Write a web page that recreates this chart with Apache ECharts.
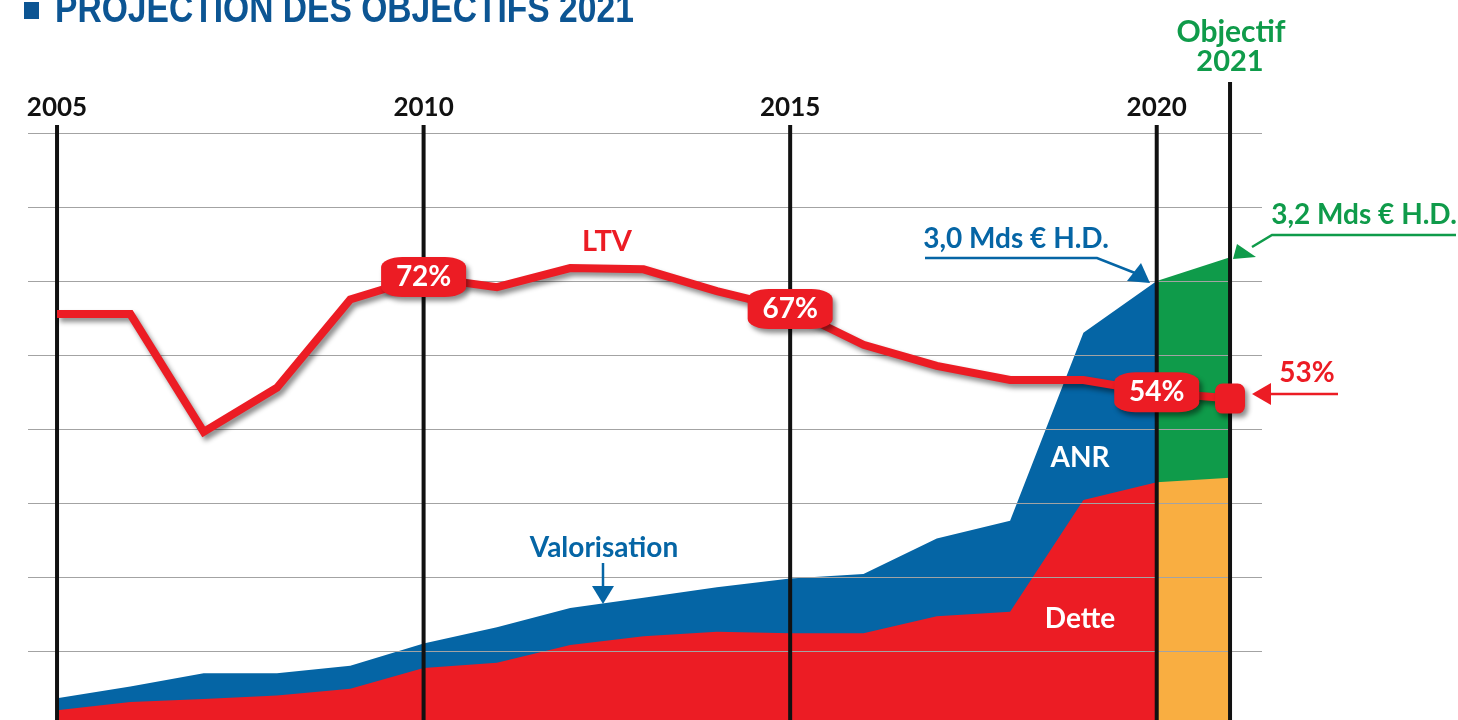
<!DOCTYPE html>
<html lang="fr">
<head>
<meta charset="utf-8">
<title>Projection des objectifs 2021</title>
<script src="https://cdn.jsdelivr.net/npm/echarts@6/dist/echarts.min.js"></script>
<style>
  html, body { margin: 0; padding: 0; background: #fff; }
  #chart { width: 1458px; height: 720px; }
</style>
</head>
<body>
<div id="chart"></div>
<script>
// valeurs (Mds €, LTV en %)
const years = [2005, 2006, 2007, 2008, 2009, 2010, 2011, 2012, 2013, 2014, 2015, 2016, 2017, 2018, 2019, 2020, 2021];
const valorisation = [0.18, 0.26, 0.35, 0.35, 0.40, 0.55, 0.66, 0.79, 0.86, 0.93, 0.99, 1.02, 1.26, 1.38, 2.65, 3.0, 3.16];
const dette = [0.10, 0.155, 0.175, 0.20, 0.245, 0.385, 0.42, 0.54, 0.60, 0.63, 0.62, 0.62, 0.735, 0.765, 1.52, 1.64, 1.67];
const ltv = [66.2, 66.2, 47.8, 54.7, 68.5, 72, 70.4, 73.4, 73.2, 69.8, 67, 61.4, 58.1, 55.9, 55.9, 54, 53];
const ltvLabelYears = [2010, 2015, 2020];
const yearTicks = [2005, 2010, 2015, 2020];
const yearLines = [2005, 2010, 2015, 2020, 2021];
const objectiveYear = 2021;

const RED = "#ec1c24";
const BLUE = "#0565a5";
const GREEN = "#0f9b4a";
const ORANGE = "#f9ae41";
const NAVY = "#0c5593";
const FONT = "Lato, 'Open Sans', sans-serif";

const objIdx = years.indexOf(objectiveYear);
const pairs = (arr) => years.map((y, i) => [y, arr[i]]);
const history = (arr) => pairs(arr).slice(0, objIdx);
const objective = (arr) => pairs(arr).slice(objIdx - 1);
const mds = (v) => v.toFixed(1).replace(".", ",") + " Mds € H.D.";

const chart = echarts.init(document.getElementById("chart"));

function areaSeries(name, data, color) {
  return {
    name: name,
    type: "line",
    data: data,
    symbol: "none",
    lineStyle: { width: 0 },
    areaStyle: { color: color, opacity: 1 },
    z: 1,
    silent: true,
  };
}

function txt(text, x, y, size, color, extra) {
  return Object.assign(
    {
      type: "text",
      x: x,
      y: y,
      z: 10,
      style: {
        text: text,
        fill: color,
        font: "bold " + size + "px " + FONT,
        align: "center",
        verticalAlign: "middle",
      },
    },
    extra || {}
  );
}

function poly(points, color) {
  return {
    type: "polyline",
    z: 10,
    shape: { points: points },
    style: { stroke: color, lineWidth: 2.5, fill: null },
  };
}

function head(points, color) {
  return { type: "polygon", z: 10, shape: { points: points }, style: { fill: color } };
}

const ltvMarks = pairs(ltv)
  .filter((d) => ltvLabelYears.includes(d[0]) || d[0] === objectiveYear)
  .map((d) => {
    const labelled = d[0] !== objectiveYear;
    return {
      value: d,
      symbolSize: labelled ? [85, 40] : [30, 30],
      label: { show: labelled },
    };
  });

const option = {
  backgroundColor: "#fff",
  animation: false,
  grid: { left: 28, right: 196, top: 133, bottom: -5, containLabel: false, outerBoundsMode: "none" },
  xAxis: {
    type: "value",
    min: 2004.604,
    max: 2021.436,
    position: "top",
    axisLine: { show: false },
    axisTick: { show: false },
    splitLine: { show: false },
    axisLabel: {
      customValues: yearTicks,
      formatter: (v) => String(v),
      fontSize: 26,
      fontWeight: "bold",
      fontFamily: FONT,
      color: "#111",
      margin: 12,
    },
  },
  yAxis: [
    {
      type: "value",
      min: 0,
      max: 4,
      interval: 0.5,
      z: 2,
      axisLine: { show: false },
      axisTick: { show: false },
      axisLabel: { show: false },
      splitLine: { lineStyle: { color: "#a3a3a3", width: 1.2 } },
    },
    { type: "value", min: 2, max: 94.5, show: false, splitLine: { show: false } },
  ],
  series: [
    areaSeries("Valorisation", history(valorisation), BLUE),
    areaSeries("Dette", history(dette), RED),
    areaSeries("Objectif valorisation", objective(valorisation), GREEN),
    areaSeries("Objectif dette", objective(dette), ORANGE),
    {
      // traits verticaux des années repères
      type: "custom",
      data: yearLines.map((y) => [y, 0]),
      z: 3,
      silent: true,
      renderItem: (params, api) => {
        const year = api.value(0);
        const base = api.coord([year, 0]);
        const top = api.coord([year, 4])[1] - (year === objectiveYear ? 51 : 8);
        return {
          type: "line",
          shape: { x1: base[0], y1: top, x2: base[0], y2: base[1] },
          style: { stroke: "#111", lineWidth: 4 },
        };
      },
    },
    {
      name: "LTV",
      type: "line",
      yAxisIndex: 1,
      data: pairs(ltv),
      symbol: "none",
      z: 4,
      silent: true,
      lineStyle: {
        color: RED,
        width: 8,
        join: "miter",
        shadowColor: "rgba(0,0,0,0.45)",
        shadowBlur: 5,
        shadowOffsetX: 3,
        shadowOffsetY: 4,
      },
    },
    {
      type: "scatter",
      yAxisIndex: 1,
      data: ltvMarks,
      symbol: "roundRect",
      z: 5,
      silent: true,
      itemStyle: {
        color: RED,
        opacity: 1,
        shadowColor: "rgba(0,0,0,0.45)",
        shadowBlur: 5,
        shadowOffsetX: 3,
        shadowOffsetY: 4,
      },
      label: {
        position: "inside",
        formatter: (p) => p.value[1] + "%",
        color: "#fff",
        fontSize: 28,
        fontWeight: "bold",
        fontFamily: FONT,
      },
    },
  ],
  graphic: [
    { type: "rect", z: 10, shape: { x: 24, y: 2, width: 15, height: 17 }, style: { fill: NAVY } },
    {
      type: "text",
      x: 55,
      y: 11,
      z: 10,
      scaleX: 0.84,
      style: {
        text: "PROJECTION DES OBJECTIFS 2021",
        fill: NAVY,
        font: "bold 40px 'Liberation Sans', sans-serif",
        align: "left",
        verticalAlign: "middle",
      },
    },
    txt("Objectif", 1231, 32, 30, GREEN),
    txt(String(objectiveYear), 1230, 62, 29, GREEN),
    txt("LTV", 607, 242, 29, RED),
    txt("Valorisation", 604, 548, 28, BLUE),
    poly([[603, 563], [603, 588]], BLUE),
    head([[592, 586], [614, 586], [603, 604]], BLUE),
    txt("ANR", 1080, 458, 28, "#fff"),
    txt("Dette", 1080, 619, 28, "#fff"),
    txt(mds(valorisation[objIdx - 1]), 1016, 239, 28, BLUE),
    poly([[925, 258], [1097, 258], [1135, 273]], BLUE),
    head([[1150, 283], [1127, 281], [1141, 263]], BLUE),
    txt(mds(valorisation[objIdx]), 1364, 215, 28, GREEN),
    poly([[1456, 235], [1272, 235], [1252, 247]], GREEN),
    head([[1233, 259], [1237, 244], [1256, 257]], GREEN),
    txt(ltv[objIdx] + "%", 1307, 373, 28, RED),
    poly([[1270, 394], [1338, 394]], RED),
    head([[1252, 394], [1271, 383], [1271, 405]], RED),
  ],
};

chart.setOption(option);
</script>
</body>
</html>
